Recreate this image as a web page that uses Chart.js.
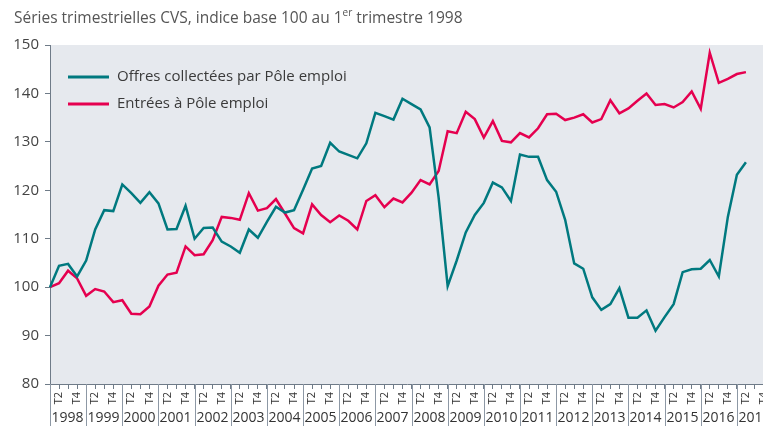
<!DOCTYPE html>
<html>
<head>
<meta charset="utf-8">
<script src="https://cdn.jsdelivr.net/npm/chart.js@4.4.1/dist/chart.umd.min.js"></script>
<style>
  html, body { margin: 0; padding: 0; background: #fff; overflow: hidden; }
  #wrap { position: relative; width: 763px; height: 426px; overflow: hidden; }
  #title { position: absolute; left: 14px; top: 6px; font: 15.5px "Open Sans", sans-serif; color: #555; white-space: nowrap; }
  #title sup { font-size: 10px; position: relative; top: -1px; }
  #chart { position: absolute; left: 0; top: 0; }
</style>
</head>
<body>
<div id="wrap">
  <canvas id="chart" width="764" height="426" style="width:764px;height:426px"></canvas>
  <div id="title">Séries trimestrielles CVS, indice base 100 au 1<sup>er</sup> trimestre 1998</div>
</div>
<script>
var YEARS = [1998, 1999, 2000, 2001, 2002, 2003, 2004, 2005, 2006, 2007, 2008, 2009, 2010, 2011, 2012, 2013, 2014, 2015, 2016, 2017];
var QUARTERS = ["T1", "T2", "T3", "T4"];
var SHOWN_QUARTERS = ["T2", "T4"];

var SERIES_NAMES = ["Offres collectées par Pôle emploi", "Entrées à Pôle emploi"];
var SERIES_COLORS = ["#00797f", "#e5004f"];

// 1998 T1 -> 2017 T2
var offres = [100, 104.4, 104.8, 102.2, 105.5, 111.9, 115.9, 115.7, 121.2, 119.4,
  117.4, 119.6, 117.3, 111.9, 112.0, 116.8, 110.0, 112.2, 112.3, 109.4,
  108.4, 107.1, 111.9, 110.2, 113.5, 116.6, 115.4, 115.9, 120.1, 124.5,
  125.0, 129.8, 128.0, 127.3, 126.6, 129.7, 136.0, 135.3, 134.6, 138.9,
  137.8, 136.7, 133.0, 118.5, 100.2, 105.5, 111.3, 114.9, 117.4, 121.6,
  120.6, 117.8, 127.4, 126.9, 126.9, 122.1, 119.7, 113.9, 104.9, 103.8,
  97.9, 95.3, 96.5, 99.8, 93.7, 93.7, 95.2, 91.0, 93.8, 96.5,
  103.1, 103.7, 103.8, 105.6, 102.2, 114.5, 123.2, 125.8];
var entrees = [100, 100.8, 103.4, 101.8, 98.2, 99.6, 99.1, 96.9, 97.3, 94.5,
  94.4, 96.0, 100.3, 102.6, 103.0, 108.4, 106.6, 106.8, 109.7, 114.5,
  114.3, 113.9, 119.4, 115.8, 116.3, 118.2, 115.2, 112.2, 111.1, 117.1,
  114.9, 113.4, 114.8, 113.7, 111.9, 117.8, 119.0, 116.5, 118.3, 117.5,
  119.5, 122.1, 121.2, 124.0, 132.2, 131.8, 136.2, 134.7, 130.9, 134.3,
  130.2, 129.9, 131.8, 130.9, 132.8, 135.7, 135.8, 134.5, 135.0, 135.7,
  134.0, 134.7, 138.6, 135.9, 136.9, 138.5, 140.0, 137.6, 137.8, 137.1,
  138.2, 140.4, 136.8, 148.4, 142.2, 143.0, 144.0, 144.4];

var Y_MIN = 80, Y_MAX = 150, Y_STEP = 10;

// one label per quarter, whole axis runs to 2017 T4
var labels = [];
for (const y of YEARS) {
  for (const q of QUARTERS) labels.push(q + " " + y);
}

const FONT = '"Open Sans", sans-serif';
const AXIS_GREY = "#6f7b88";

const plotBackground = {
  id: "plotBackground",
  beforeDraw(chart) {
    const { ctx, chartArea } = chart;
    ctx.save();
    ctx.fillStyle = "#e6e9ee";
    ctx.fillRect(chartArea.left, chartArea.top, chart.width - chartArea.left, chartArea.bottom - chartArea.top);
    ctx.restore();
  }
};

// year separators + year names under the quarter ticks
const yearAxis = {
  id: "yearAxis",
  afterDraw(chart) {
    const { ctx, chartArea } = chart;
    const x = chart.scales.x;
    const step = x.getPixelForTick(1) - x.getPixelForTick(0);
    ctx.save();
    ctx.strokeStyle = "#8d98a5";
    ctx.lineWidth = 1;
    ctx.fillStyle = "#333";
    ctx.font = "14px " + FONT;
    ctx.textAlign = "center";
    ctx.textBaseline = "middle";
    YEARS.forEach(function (year, k) {
      const x0 = Math.round(x.getPixelForTick(k * 4)) + 0.5;
      ctx.beginPath();
      ctx.moveTo(x0, chartArea.bottom);
      ctx.lineTo(x0, chart.height);
      ctx.stroke();
      ctx.fillText(String(year), x0 + step * 2 - 1, 418);
    });
    ctx.restore();
  }
};

const insideLegend = {
  id: "insideLegend",
  afterDatasetsDraw(chart) {
    const { ctx } = chart;
    ctx.save();
    ctx.font = "15px " + FONT;
    ctx.textBaseline = "middle";
    ctx.textAlign = "left";
    SERIES_NAMES.forEach(function (name, i) {
      const y = 77 + i * 27;
      ctx.strokeStyle = SERIES_COLORS[i];
      ctx.lineWidth = 3;
      ctx.beginPath();
      ctx.moveTo(68, y);
      ctx.lineTo(109, y);
      ctx.stroke();
      ctx.fillStyle = "#3a3a3a";
      ctx.fillText(name, 117, y);
    });
    ctx.restore();
  }
};

new Chart(document.getElementById("chart"), {
  type: "line",
  data: {
    labels: labels,
    datasets: [
      { label: SERIES_NAMES[0], data: offres, borderColor: SERIES_COLORS[0], borderWidth: 2.5, pointRadius: 0, tension: 0 },
      { label: SERIES_NAMES[1], data: entrees, borderColor: SERIES_COLORS[1], borderWidth: 2.5, pointRadius: 0, tension: 0 }
    ]
  },
  options: {
    responsive: false,
    animation: false,
    layout: { padding: { top: 45, right: 0, bottom: 0, left: 0 } },
    plugins: { legend: { display: false }, tooltip: { enabled: false } },
    scales: {
      x: {
        type: "category",
        offset: false,
        grid: { drawOnChartArea: false, drawTicks: true, tickLength: 5, color: AXIS_GREY },
        border: { display: true, color: AXIS_GREY, width: 1 },
        ticks: {
          autoSkip: false,
          minRotation: 90,
          maxRotation: 90,
          padding: 3,
          color: "#333",
          font: { family: FONT, size: 11 },
          callback: function (value, index) {
            const q = QUARTERS[index % 4];
            return SHOWN_QUARTERS.includes(q) ? q : "";
          }
        },
        afterFit: function (scale) {
          scale.height = 42;
          scale.paddingLeft = 0;
          scale.paddingRight = 0;
        }
      },
      y: {
        min: Y_MIN,
        max: Y_MAX,
        grid: { drawOnChartArea: false, drawTicks: true, tickLength: 5, color: AXIS_GREY },
        border: { display: true, color: AXIS_GREY, width: 1 },
        ticks: { stepSize: Y_STEP, padding: 6, color: "#444", font: { family: FONT, size: 15 } },
        afterFit: function (scale) {
          scale.width = 50;
        }
      }
    }
  },
  plugins: [plotBackground, yearAxis, insideLegend]
});
</script>
</body>
</html>
